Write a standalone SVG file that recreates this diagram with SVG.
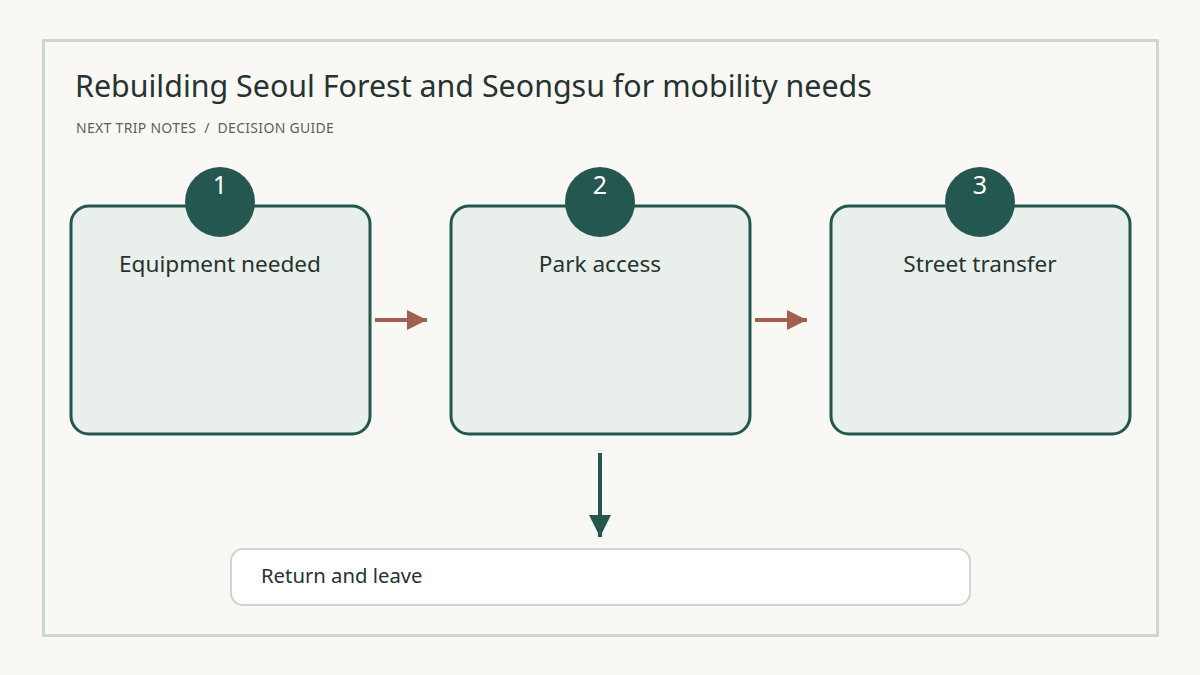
<svg xmlns="http://www.w3.org/2000/svg" width="1200" height="675" viewBox="0 0 1200 675">
<defs>
<style>
.t{font-family:"Noto Sans","Open Sans","DejaVu Sans",sans-serif;}
.step{fill:#e9efeb;stroke:#24574f;stroke-width:3;}
.badge{fill:#24574f;}
.num{fill:#ffffff;font-size:25px;text-anchor:middle;}
.lbl{fill:#263330;font-size:22.6px;text-anchor:middle;}
</style>
<marker id="ah" viewBox="0 0 10 10" refX="10" refY="5" markerWidth="5" markerHeight="5.5" markerUnits="strokeWidth" orient="auto"><path d="M0,0 L10,5 L0,10 Z" fill="#a15f4f"/></marker>
<marker id="ahd" viewBox="0 0 10 10" refX="10" refY="5" markerWidth="5.5" markerHeight="6.5" markerUnits="strokeWidth" orient="auto"><path d="M0,0 L10,5 L0,10 Z" fill="#24574f"/></marker>
</defs>
<rect width="1200" height="675" fill="#f9f8f4"/>
<rect x="43.5" y="40.5" width="1114" height="595" fill="#f9f8f4" stroke="#cdd6cf" stroke-width="3"/>
<text class="t" x="75" y="97" font-size="30.4" fill="#263330">Rebuilding Seoul Forest and Seongsu for mobility needs</text>
<text class="t" x="76" y="133" font-size="14" fill="#5a6360" style="white-space:pre" xml:space="preserve" letter-spacing="0.3">NEXT TRIP NOTES  /  DECISION GUIDE</text>
<g id="connectors">
<line x1="375" y1="320" x2="427" y2="320" stroke="#a15f4f" stroke-width="4" marker-end="url(#ah)"/>
<line x1="755" y1="320" x2="807" y2="320" stroke="#a15f4f" stroke-width="4" marker-end="url(#ah)"/>
<line x1="600" y1="453" x2="600" y2="537" stroke="#24574f" stroke-width="4" marker-end="url(#ahd)"/>
</g>
<g id="node1">
<rect class="step" x="71" y="206" width="299" height="228" rx="18"/>
<circle class="badge" cx="220" cy="202" r="35"/>
<text class="t num" x="220" y="194">1</text>
<text class="t lbl" x="220" y="272">Equipment needed</text>
</g>
<g id="node2">
<rect class="step" x="451" y="206" width="299" height="228" rx="18"/>
<circle class="badge" cx="600" cy="202" r="35"/>
<text class="t num" x="600" y="194">2</text>
<text class="t lbl" x="600" y="272">Park access</text>
</g>
<g id="node3">
<rect class="step" x="831" y="206" width="299" height="228" rx="18"/>
<circle class="badge" cx="980" cy="202" r="35"/>
<text class="t num" x="980" y="194">3</text>
<text class="t lbl" x="980" y="272">Street transfer</text>
</g>
<g id="node4">
<rect x="231" y="549" width="739" height="56" rx="12" fill="#ffffff" stroke="#cdd6cf" stroke-width="2"/>
<text class="t" x="261" y="583" font-size="20.3" fill="#263330">Return and leave</text>
</g>
</svg>
